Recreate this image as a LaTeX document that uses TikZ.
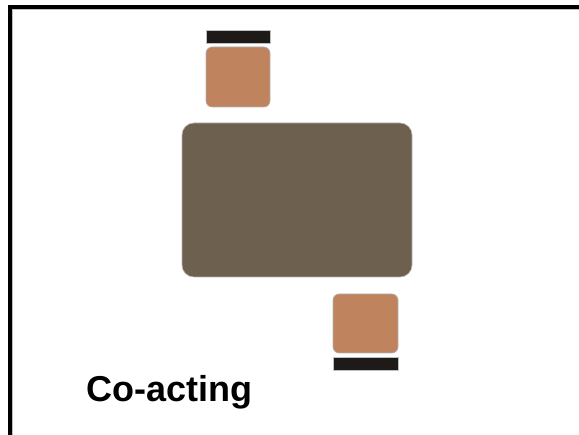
\documentclass[tikz,border=0pt]{standalone}
\usepackage{fontspec}
\setmainfont{Liberation Sans}
\usepackage{tikz}
\usetikzlibrary{positioning}
\definecolor{chaircolor}{RGB}{191,131,94}
\definecolor{tablecolor}{RGB}{110,96,78}
\definecolor{barcolor}{RGB}{30,26,24}
\tikzset{
  chair/.style={draw=gray!60, line width=0.6pt, fill=chaircolor, rounded corners=6pt,
                minimum width=64pt, minimum height=60pt, inner sep=0pt, outer sep=0pt},
  tablebox/.style={draw=gray!60, line width=0.6pt, fill=tablecolor, rounded corners=12pt,
                   minimum width=230pt, minimum height=154pt, inner sep=0pt},
  chairbar/.style={draw=gray!50, line width=0.4pt, fill=barcolor,
                   minimum width=64pt, minimum height=13pt, inner sep=0pt, outer sep=0pt},
  frameline/.style={line width=4pt},
}

\begin{document}
\begin{tikzpicture}[x=1pt, y=-1pt]
  \useasboundingbox (0,0) rectangle (579,435);

  % Frame
  \draw[frameline] (9.5,435) -- (9.5,7) -- (579,7);
  \draw[gray!50, line width=0.8pt] (12,435) -- (12,9.5) -- (579,9.5);

  % Table
  \node[tablebox] (table) at (297,200) {};

  % Chairs
  \node[chair] (chairA) at (238,77) {};
  \node[chairbar, above=4pt of chairA] (barA) {};
  \node[chair, minimum width=65pt, minimum height=59pt] (chairB) at (365.5,323.5) {};
  \node[chairbar, minimum width=65pt, below=4pt of chairB] (barB) {};

  % Label
  \node[anchor=base west, inner sep=0pt, font=\fontsize{36}{36}\selectfont\bfseries]
    (label) at (86,401.5) {Co-acting};

\end{tikzpicture}
\end{document}
